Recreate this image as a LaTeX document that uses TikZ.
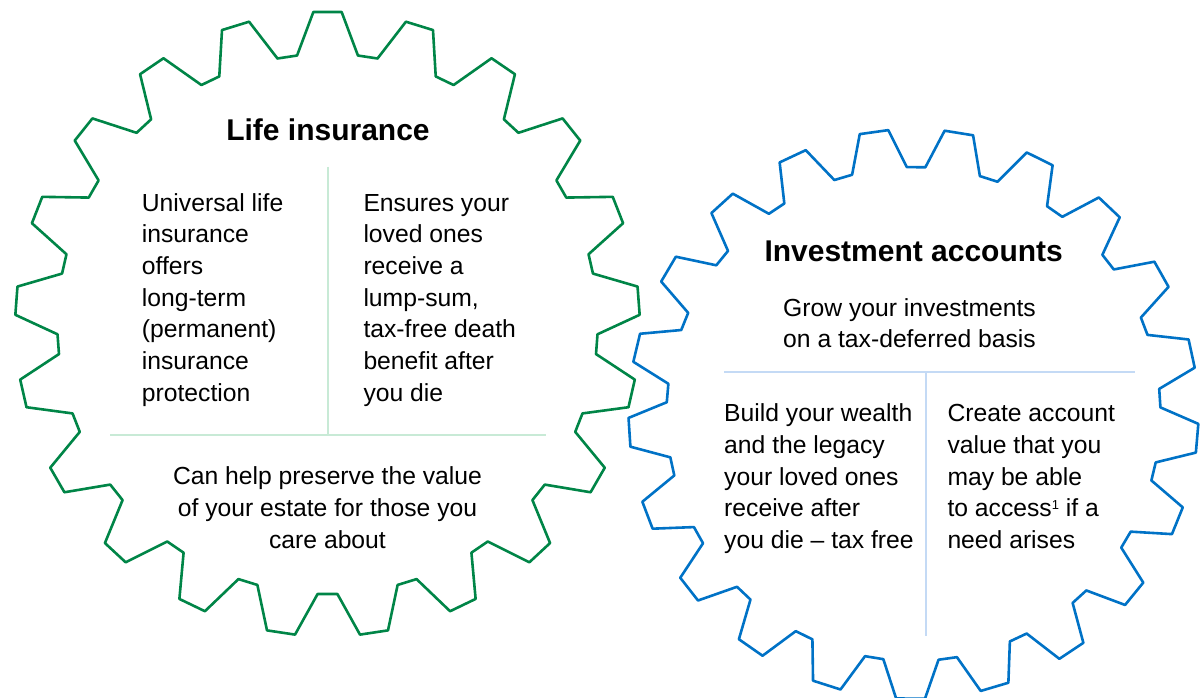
\documentclass[tikz,border=0pt]{standalone}
\usepackage{fontspec}
\setmainfont{Liberation Sans}
\usetikzlibrary{positioning}

\definecolor{lifegreen}{RGB}{0,133,71}
\definecolor{lifetint}{RGB}{200,234,214}
\definecolor{investblue}{RGB}{0,114,198}
\definecolor{investtint}{RGB}{196,218,245}

% 21-tooth cog: style, centre, first tooth angle, tip radius, root radius,
% tip half-angle, root half-angle
\newcommand{\cogwheel}[7]{%
  \draw[#1, shift={(#2)}] ({#3-#7}:#5pt)
    \foreach \k in {0,...,20}{
      -- ({#3+\k*360/21-#7}:#5pt) -- ({#3+\k*360/21-#6}:#4pt)
      -- ({#3+\k*360/21+#6}:#4pt) -- ({#3+\k*360/21+#7}:#5pt)}
    -- cycle;}

\begin{document}
\begin{tikzpicture}[
        x=1pt, y=-1pt,
        gear/.style={line width=2.6pt, line join=round},
        divider/.style={line width=2.2pt},
        heading/.style={font=\fontsize{30}{36}\selectfont\bfseries, inner sep=0pt, anchor=base},
        blurb/.style={font=\fontsize{24.7}{31.7}\selectfont, inner sep=0pt, align=left, anchor=base west},
        centred/.style={blurb, align=center, anchor=base}
        ]
        \useasboundingbox (0,0) rectangle (1201,698);

        \coordinate (lifehub)   at (327.5,324);
        \coordinate (investhub) at (913.5,414);

        \cogwheel{gear, lifegreen}{lifehub}{90}{312.3}{270.2}{2.6}{6.47}
        \cogwheel{gear, investblue}{investhub}{80.83}{285}{247}{2.9}{6.42}

        % life insurance (base anchors sit on the last line)
        \draw[divider, lifetint] (327.7,166.7) -- (327.7,434.8);
        \draw[divider, lifetint] (110,434.8) -- (545.5,434.8);
        \node[heading] (lifetitle) at (328,140.7) {Life insurance};
        \node[blurb] (lifeleft) at (141.7,401.2) {Universal life\\insurance\\offers\\long-term\\(permanent)\\insurance\\protection};
        \node[blurb, right=221.6pt of lifeleft.base west, anchor=base west] (liferight) {Ensures your\\loved ones\\receive a\\lump-sum,\\tax-free death\\benefit after\\you die};
        \node[centred] (lifebottom) at (327.5,548.2) {Can help preserve the value\\of your estate for those you\\care about};

        % investment accounts
        \draw[divider, investtint] (724,372.3) -- (1135,372.3);
        \draw[divider, investtint] (925.7,372.3) -- (925.7,635.7);
        \node[heading] (investtitle) at (913.7,261) {Investment accounts};
        \node[centred] (investtop) at (909.5,347.7) {Grow your investments\\on a tax-deferred basis};
        \node[blurb] (investleft) at (724,548.5) {Build your wealth\\and the legacy\\your loved ones\\receive after\\you die – tax free};
        \node[blurb, right=223.3pt of investleft.base west, anchor=base west] (investright) {Create account\\value that you\\may be able\\to access\raisebox{7pt}{\fontsize{13}{13}\selectfont 1} if a\\need arises};
\end{tikzpicture}
\end{document}
